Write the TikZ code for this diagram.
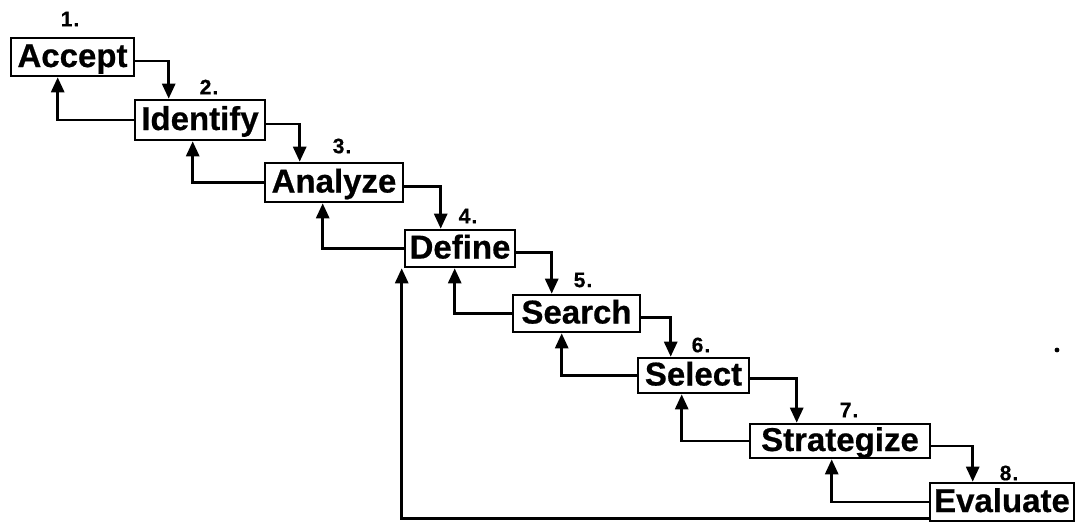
\documentclass[tikz,border=0pt]{standalone}
\usepackage{fontspec}
\setmainfont{Liberation Sans}[BoldFeatures={FakeBold=0.6}]
\usetikzlibrary{arrows.meta}
\begin{document}
\begin{tikzpicture}[x=1pt,y=-1pt,
  stage/.style={draw,line width=2.6pt,inner sep=0pt,text height=26pt,text depth=6pt,
    font=\fontsize{33}{33}\selectfont\bfseries},
  num/.style={inner sep=0pt,font=\fontsize{21}{21}\selectfont\bfseries},
  link/.style={line width=2.8pt,-{Triangle[width=13pt,length=15pt]}},
]
\useasboundingbox (0,0) rectangle (1079,523);

% stages of the process
\node[stage,minimum width=123pt,minimum height=38pt] (A) at (72.5,57)  {Accept};
\node[stage,minimum width=130pt,minimum height=40pt] (B) at (200,120)  {Identify};
\node[stage,minimum width=138pt,minimum height=39pt] (C) at (334,182.5) {Analyze};
\node[stage,minimum width=110pt,minimum height=37pt] (D) at (460,248.5) {Define};
\node[stage,minimum width=127pt,minimum height=37pt] (E) at (576.5,313.5) {Search};
\node[stage,minimum width=111pt,minimum height=35pt] (F) at (693.5,375.5) {Select};
\node[stage,minimum width=180pt,minimum height=34pt] (G) at (840,441)  {Strategize};
\node[stage,minimum width=144pt,minimum height=38pt] (H) at (1002,502) {Evaluate};

% step numbers
\node[num] (n1) at (70,19)   {1\kern1pt.};
\node[num] (n2) at (209,87)  {2\kern1pt.};
\node[num] (n3) at (342,146) {3\kern1pt.};
\node[num] (n4) at (468,216) {4\kern1pt.};
\node[num] (n5) at (583,280) {5\kern1pt.};
\node[num] (n6) at (701,345) {6\kern1pt.};
\node[num] (n7) at (849,410) {7\kern1pt.};
\node[num] (n8) at (1009,473) {8\kern1pt.};

% forward steps
\draw[link] ([yshift=-4pt]A.east) -| ([xshift=35pt]B.north west);
\draw[link] ([yshift=-4pt]B.east) -| ([xshift=36pt]C.north west);
\draw[link] ([yshift=-4pt]C.east) -| ([xshift=37pt]D.north west);
\draw[link] ([yshift=-4pt]D.east) -| ([xshift=40pt]E.north west);
\draw[link] ([yshift=-4pt]E.east) -| ([xshift=34pt]F.north west);
\draw[link] ([yshift=-3pt]F.east) -| ([xshift=48pt]G.north west);
\draw[link] ([yshift=-5pt]G.east) -| ([xshift=44pt]H.north west);

% feedback to the previous step
\draw[link] (B.west) -| ([xshift=48pt]A.south west);
\draw[link] (C.west) -| ([xshift=59pt]B.south west);
\draw[link] (D.west) -| ([xshift=59pt]C.south west);
\draw[link] (E.west) -| ([xshift=51pt]D.south west);
\draw[link] (F.west) -| ([xshift=50pt]E.south west);
\draw[link] (G.west) -| ([xshift=45pt]F.south west);
\draw[link] (H.west) -| ([xshift=83pt]G.south west);

% long loop from Evaluate back to Define
\draw[link] ([yshift=4pt]H.south west) -| ([xshift=-2pt]D.south west);

% stray mark
\fill (1057,350) circle (2.4pt);
\end{tikzpicture}
\end{document}
